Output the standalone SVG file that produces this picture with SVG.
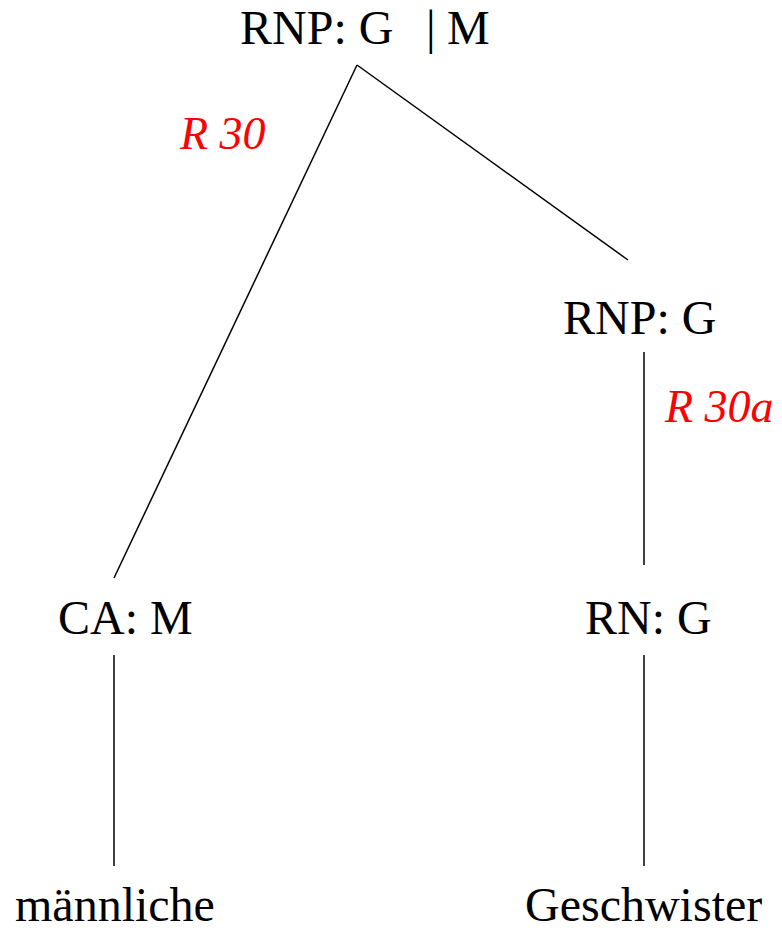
<svg xmlns="http://www.w3.org/2000/svg" width="782" height="930" viewBox="0 0 782 930">
<style>
.t{font-family:"Liberation Serif","Times New Roman",serif;font-size:48px;fill:#000}
.r{font-family:"Liberation Serif","Times New Roman",serif;font-size:46px;font-style:italic;fill:#ff0000}
.c line{stroke:#000;stroke-width:1.5}
</style>
<rect width="782" height="930" fill="#fff"/>
<g class="c" id="connectors">
<line x1="357" y1="65" x2="114" y2="578"/>
<line x1="357" y1="65" x2="628" y2="260"/>
<line x1="644" y1="352" x2="644" y2="565"/>
<line x1="114" y1="655" x2="114" y2="866"/>
<line x1="644" y1="655" x2="644" y2="866"/>
</g>
<g id="root"><text class="t" x="240" y="44">RNP: G</text><text class="t" x="426" y="44">|</text><text class="t" x="447" y="44">M</text></g>
<g id="label-r30"><text class="r" x="180" y="149">R 30</text></g>
<g id="rnp-g"><text class="t" x="563" y="334">RNP: G</text></g>
<g id="label-r30a"><text class="r" x="665" y="422">R 30a</text></g>
<g id="ca-m"><text class="t" x="58" y="634">CA: M</text></g>
<g id="rn-g"><text class="t" x="585" y="634">RN: G</text></g>
<g id="maennliche"><text class="t" x="15" y="921">männliche</text></g>
<g id="geschwister"><text class="t" x="525" y="921">Geschwister</text></g>
</svg>
